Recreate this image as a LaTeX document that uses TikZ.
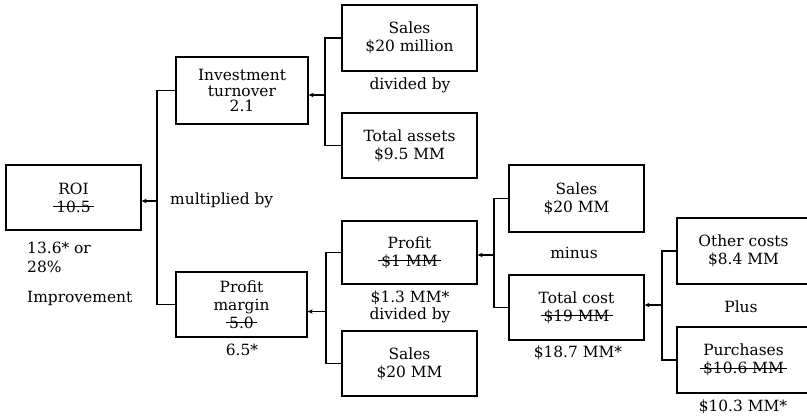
\documentclass[tikz,border=0pt]{standalone}
\usepackage{fontspec}
\setmainfont{DejaVu Serif}
\usetikzlibrary{arrows.meta}
% figure crossed out by a thin rule that runs a little past both ends
\newcommand\struck[1]{\setbox0\hbox{#1}\rlap{\hskip-3bp\raisebox{0.33em}{\rule{\dimexpr\wd0+6bp\relax}{1bp}}}\box0}
\begin{document}
\begin{tikzpicture}[x=1bp,y=-1bp,
  font=\fontsize{15.5}{18}\selectfont,
  box/.style={draw, line width=1.3bp, minimum width=135bp, minimum height=65bp,
              align=center, inner sep=0pt},
  wire/.style={line width=1.3bp},
  feed/.style={line width=1.3bp, -{Stealth[length=5bp,width=4.5bp]}},
  lbl/.style={inner sep=0pt, align=center}]
\useasboundingbox (0,0) rectangle (807,417);
\clip (0,0) rectangle (807,417);
\fill[white] (0,0) rectangle (807,417);

% boxes
\node[box] (roi) at (73.5,197.5) {ROI\\\struck{10.5}};
\node[box, minimum width=132bp, minimum height=67bp,
      font=\fontsize{15.5}{15.5}\selectfont] (it) at (242,90.5) {Investment\\turnover\\2.1};
\node[box, minimum height=66bp] (s1) at (409.5,38) {Sales\\\$20 million};
\node[box] (ta) at (409.5,145.5) {Total assets\\\$9.5 MM};
\node[box, minimum width=131bp] (pm) at (241.5,304.5) {Profit\\margin\\\struck{5.0}};
\node[box, minimum height=63bp] (pr) at (409.5,252.5) {Profit\\\struck{\$1 MM}};
\node[box] (s2) at (409.5,363.5) {Sales\\\$20 MM};
\node[box, minimum height=67bp] (s3) at (576.5,198.5) {Sales\\\$20 MM};
\node[box] (tc) at (576.5,307.5) {Total cost\\\struck{\$19 MM}};
\node[box, minimum width=133bp, minimum height=66bp] (oc) at (743.5,251) {Other costs\\\$8.4 MM};
\node[box, minimum width=133bp, minimum height=66bp] (pu) at (743.5,360) {Purchases\\\struck{\$10.6 MM}};

% free text
\node[lbl, anchor=base west] (gain) at (27,253) {13.6* or};
\node[lbl, anchor=base west] (pct) at (27,272) {28\%};
\node[lbl, anchor=base west] (impr) at (27,302) {Improvement};
\node[lbl, anchor=west] (mult) at (170,200) {multiplied by};
\node[lbl] (div1) at (410,85) {divided by};
\node[lbl, font=\fontsize{15.5}{17}\selectfont] (div2) at (410,306.5) {\$1.3 MM*\\divided by};
\node[lbl] (pmnew) at (242,350) {6.5*};
\node[lbl] (minus) at (574,253) {minus};
\node[lbl] (tcnew) at (578,353) {\$18.7 MM*};
\node[lbl] (plus) at (741,307) {Plus};
\node[lbl] (punew) at (743,407) {\$10.3 MM*};

% bracket junctions
\coordinate (ja) at (157,0);
\coordinate (jb) at (325,0);
\coordinate (jc) at (326,0);
\coordinate (jd) at (494,0);
\coordinate (je) at (662,0);
\coordinate (roiin) at ([yshift=-3.5bp]roi.east);
\coordinate (itin) at ([yshift=-4.5bp]it.east);
\coordinate (pmin) at ([yshift=-7bp]pm.east);
\coordinate (prin) at ([yshift=-2.5bp]pr.east);
\coordinate (tcin) at ([yshift=2.5bp]tc.east);

% ROI = turnover x margin
\draw[wire] (it.west) -- (it.west -| ja) -- (pm.west -| ja) -- (pm.west);
\draw[feed] (roiin -| ja) -- (roiin);
% turnover = sales / assets
\draw[wire] (s1.west) -- (s1.west -| jb) -- (ta.west -| jb) -- (ta.west);
\draw[feed] (itin -| jb) -- (itin);
% margin = profit / sales
\draw[wire] (pr.west) -- (pr.west -| jc) -- (s2.west -| jc) -- (s2.west);
\draw[feed] (pmin -| jc) -- (pmin);
% profit = sales - total cost
\draw[wire] (s3.west) -- (s3.west -| jd) -- (tc.west -| jd) -- (tc.west);
\draw[feed] (prin -| jd) -- (prin);
% total cost = other costs + purchases
\draw[wire] (oc.west) -- (oc.west -| je) -- (pu.west -| je) -- (pu.west);
\draw[feed] (tcin -| je) -- (tcin);
\end{tikzpicture}
\end{document}
